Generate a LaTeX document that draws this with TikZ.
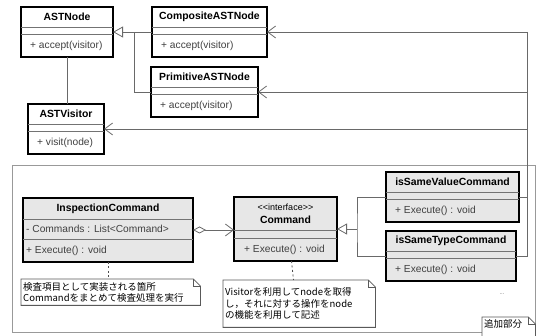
\documentclass[tikz,border=0pt]{standalone}
\usepackage{fontspec}
\newfontfamily\umlfont{Liberation Sans}
\newfontfamily\jafont{Noto Sans CJK JP}
\usetikzlibrary{positioning}
\usetikzlibrary{calc}
\usetikzlibrary{arrows.meta}
\definecolor{cmdgray}{RGB}{231, 231, 231}
\definecolor{linegray}{RGB}{105, 105, 105}
\newcommand{\umlclass}[9][9]{%
  \node[classbox, minimum width=#4, minimum height={#5+#6+23}] (#2) at #3 {};
  \draw[sep] ($(#2.north west)+(0,#5)$) -- ($(#2.north east)+(0,#5)$);
  \draw[sep] ($(#2.north west)+(0,#5+#6)$) -- ($(#2.north east)+(0,#5+#6)$);
  \node[cname] (#2-name) at ($(#2.north)+(0,#5/2)$) {#7};
  \node[member] (#2-attr) at ($(#2.north west)+(#1,#5+#6/2)$) {#8};
  \node[member] (#2-op) at ($(#2.north west)+(#1,#5+#6+11.5)$) {#9};
}
\newcommand{\notefold}[1]{%
  \draw[noteline] (#1.north west) -- ([xshift=-7pt]#1.north east) -- ([yshift=-7pt]#1.north east)
    -- (#1.south east) -- (#1.south west) -- cycle;
  \draw[noteline] ([xshift=-7pt]#1.north east) |- ([yshift=-7pt]#1.north east);
}
\begin{document}
\begin{tikzpicture}[
  x=1pt, y=-1pt,
  classfill/.style={fill=white},
  classbox/.style={draw=black, line width=1.5pt, inner sep=0pt, outer sep=0pt,
                   anchor=north west, classfill},
  sep/.style={draw=black!55, line width=0.9pt},
  cname/.style={font=\umlfont\bfseries\fontsize{10.4}{13}\selectfont, align=center, inner sep=0pt},
  member/.style={font=\umlfont\fontsize{10.2}{12}\selectfont, text=black!75, anchor=west, inner sep=0pt},
  ln/.style={draw=linegray, line width=0.8pt},
  gen/.style={ln, -{Triangle[open, length=10pt, width=11pt]}},
  dep/.style={ln, -{Straight Barb[length=8pt, width=12pt]}},
  aggr/.style={ln, {Diamond[open, length=13pt, width=7pt]}-{Straight Barb[length=8pt, width=12pt]}},
  notelink/.style={draw=black!70, line width=0.8pt, dash pattern=on 2pt off 2.5pt},
  note/.style={fill=white, inner xsep=2pt, inner ysep=1pt, align=left, anchor=north west,
               font=\jafont\fontsize{9.5}{11.5}\selectfont},
  noteline/.style={draw=black!65, line width=0.8pt},
  pkgframe/.style={draw=black!40, line width=1.2pt, inner sep=0pt, anchor=north west}
]
\useasboundingbox (0,0) rectangle (536,336);
\node[pkgframe, minimum width=523, minimum height=167] (added) at (12,165) {};
\umlclass{astnode}{(21,7)}{92}{20}{7}{ASTNode}{}{+ accept(visitor)}
\umlclass{composite}{(152,7)}{115}{20}{7}{CompositeASTNode}{}{+ accept(visitor)}
\umlclass{primitive}{(151,67)}{107}{20}{7}{PrimitiveASTNode}{}{+ accept(visitor)}
\umlclass{astvisitor}{(28,104)}{76}{20}{7}{ASTVisitor}{}{+ visit(node)}
\begin{scope}[classfill/.style={fill=cmdgray}]
\umlclass[3]{inspection}{(23,198)}{170}{21}{20}{InspectionCommand}{- Commands : List<Command>}{+ Execute() : void}
\umlclass[10]{command}{(234,197)}{103}{33}{8}{{\fontsize{9}{10}\selectfont\mdseries <<interface>>}\\Command}{}{+ Execute() : void}
\umlclass{isvalue}{(386,172)}{133}{20}{7}{isSameValueCommand}{}{+ Execute() : void}
\umlclass{istype}{(386,231)}{130}{20}{7}{isSameTypeCommand}{}{+ Execute() : void}
\end{scope}
\draw[gen] (composite.west) -- (astnode.east);
\coordinate (genjoin) at ($(astnode.east)!0.55!(composite.west)$);
\draw[ln] (primitive.west) -| (genjoin);
\draw[ln] (astnode.south) -- (astnode.south |- astvisitor.north);
\coordinate (busTop) at ($(composite.east)+(260,0)$);
\coordinate (busBottom) at (busTop |- istype.east);
\draw[dep] (busTop) -- (composite.east);
\draw[dep] (busTop |- primitive.east) -- (primitive.east);
\draw[dep] (busTop |- astvisitor.east) -- (astvisitor.east);
\draw[ln] (busTop) -- (busBottom) -- (istype.east);
\draw[ln] (isvalue.east) -- (busTop |- isvalue.east);
\draw[aggr] (inspection.east) -- (inspection.east -| command.west);
\coordinate (cmdjoin) at ($(command.east)+(20,0)$);
\draw[gen] (cmdjoin) -- (command.east);
\draw[ln] (isvalue.west) -| (cmdjoin) |- (istype.west);
\node[note, text width=175, minimum height=26] (note1) at (21,279)
  {検査項目として実装される箇所\\Commandをまとめて検査処理を実行};
\notefold{note1}
\node[note, text width=148, minimum height=47] (note2) at (223,280)
  {Visitorを利用してnodeを取得\\し，それに対する操作をnode\\の機能を利用して記述};
\notefold{note2}
\draw[notelink] (inspection.south) -- (inspection.south |- note1.north);
\draw[notelink] ([xshift=6pt]command.south) -- ([xshift=8pt]command.south |- note2.north);
\node[font=\umlfont\fontsize{6}{7}\selectfont, text=black!55] (more) at (502,294) {...};
\node[note, text width=49, text height=9, text depth=11] (note3) at (482,317) {追加部分};
\notefold{note3}
\end{tikzpicture}
\end{document}
